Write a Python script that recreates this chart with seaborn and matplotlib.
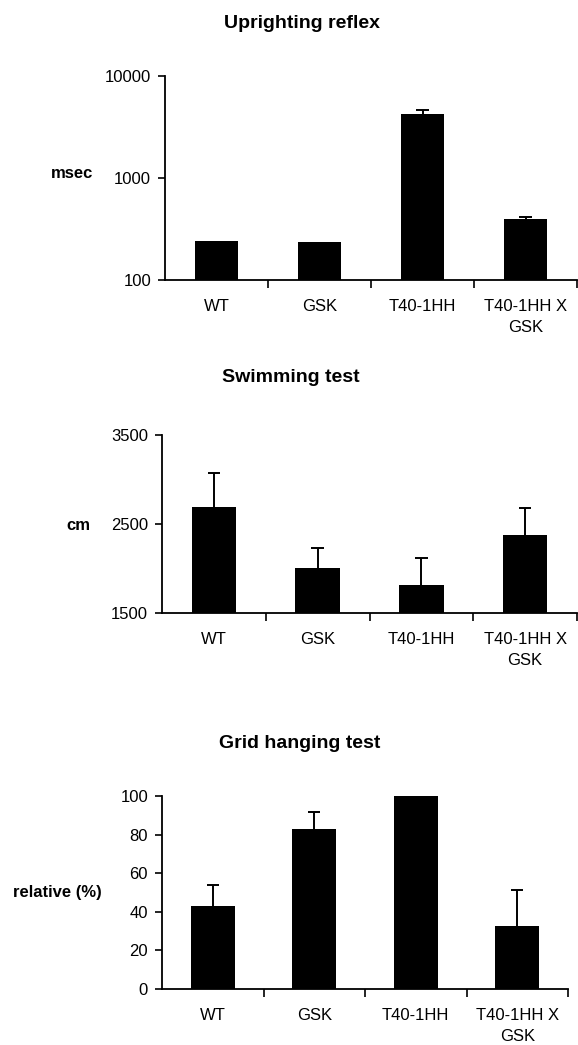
import seaborn as sns
import matplotlib.pyplot as plt
from matplotlib.ticker import FixedLocator, NullLocator

# data
groups = ["WT", "GSK", "T40-1HH", "T40-1HH X\nGSK"]

upright_ms = [240, 238, 4200, 392]
upright_err = [0, 0, 450, 18]

swim_cm = [2690, 2010, 1815, 2380]
swim_err = [380, 225, 300, 295]

grid_pct = [43, 83, 100, 32.5]
grid_err = [11, 8.5, 0, 19]

sns.set_style("ticks")
plt.rcParams["font.family"] = ["Liberation Sans", "DejaVu Sans"]
plt.rcParams["font.size"] = 12
for k in ["text.color", "axes.labelcolor", "xtick.color", "ytick.color", "axes.edgecolor"]:
    plt.rcParams[k] = "black"

fig = plt.figure(figsize=(5.78, 10.45), dpi=100)

ax1 = fig.add_axes([165/578, 765/1045, 412/578, 204/1045])
ax2 = fig.add_axes([162/578, 432/1045, 415/578, 178/1045])
ax3 = fig.add_axes([162/578, 56/1045, 406/578, 193/1045])


def panel(ax, vals, errs, width):
    sns.barplot(x=groups, y=vals, color="black", saturation=1, width=width,
                errorbar=None, linewidth=0, ax=ax)
    # upper half of the error bars only
    up = [v + e for v, e in zip(vals, errs)]
    xs = [i for i, e in enumerate(errs) if e > 0]
    ax.vlines(xs, [vals[i] for i in xs], [up[i] for i in xs],
              color="black", lw=1.4, zorder=1)
    ax.hlines([up[i] for i in xs], [i - 0.06 for i in xs], [i + 0.06 for i in xs],
              color="black", lw=1.4, zorder=1)
    sns.despine(ax=ax)
    for s in ["left", "bottom"]:
        ax.spines[s].set_linewidth(1.3)
    ax.set_xlim(-0.5, 3.5)
    ax.xaxis.set_minor_locator(FixedLocator([0.5, 1.5, 2.5, 3.5]))
    ax.tick_params(axis="x", which="major", length=0, pad=14)
    ax.tick_params(axis="x", which="minor", length=6, width=1.2, direction="out")
    ax.tick_params(axis="y", which="major", length=5, width=1.2, pad=5,
                   labelsize=12)
    for lab in ax.get_xticklabels():
        lab.set_linespacing(1.45)
        lab.set_fontsize(12)
    ax.set_xlabel("")
    ax.set_ylabel("")


# Uprighting reflex
panel(ax1, upright_ms, upright_err, 0.42)
ax1.set_yscale("log")
ax1.set_ylim(100, 10000)
ax1.set_yticks([100, 1000, 10000])
ax1.set_yticklabels(["100", "1000", "10000"])
ax1.yaxis.set_minor_locator(NullLocator())

# Swimming test
panel(ax2, swim_cm, swim_err, 0.43)
ax2.set_ylim(1500, 3500)
ax2.set_yticks([1500, 2500, 3500])

# Grid hanging test
panel(ax3, grid_pct, grid_err, 0.43)
ax3.set_ylim(0, 100)
ax3.set_yticks([0, 20, 40, 60, 80, 100])

fig.text(302/578, 1 - 23/1045, "Uprighting reflex", ha="center", va="center",
         fontsize=14, fontweight="bold")
fig.text(291/578, 1 - 377/1045, "Swimming test", ha="center", va="center",
         fontsize=14, fontweight="bold")
fig.text(300/578, 1 - 743/1045, "Grid hanging test", ha="center", va="center",
         fontsize=14, fontweight="bold")

fig.text(72/578, 1 - 173/1045, "msec", ha="center", va="center",
         fontsize=12, fontweight="bold")
fig.text(78/578, 1 - 525/1045, "cm", ha="center", va="center",
         fontsize=12, fontweight="bold")
fig.text(57/578, 1 - 893/1045, "relative (%)", ha="center", va="center",
         fontsize=12, fontweight="bold")

fig.savefig("out.png", dpi=100)
